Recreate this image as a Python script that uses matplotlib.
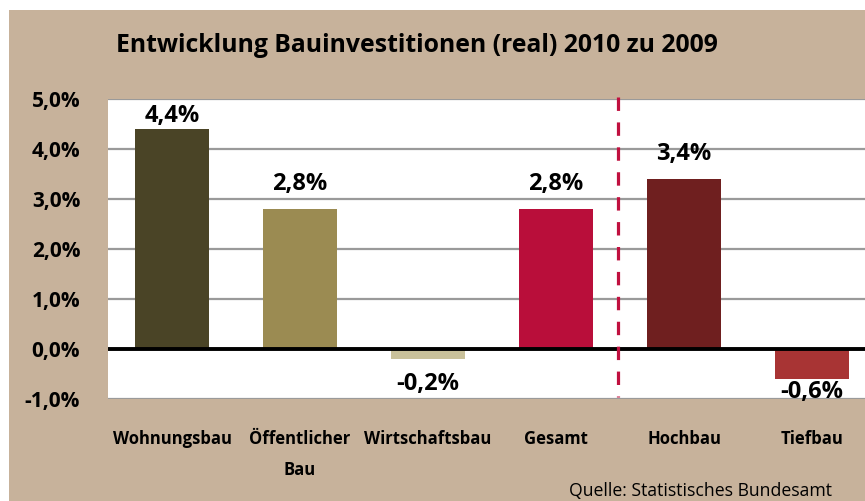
import matplotlib
matplotlib.use("Agg")
import matplotlib.pyplot as plt
from matplotlib.patches import Rectangle

categories = ["Wohnungsbau", "Öffentlicher\nBau", "Wirtschaftsbau", "Gesamt", "Hochbau", "Tiefbau"]
values = [4.4, 2.8, -0.2, 2.8, 3.4, -0.6]
bar_colors = ["#4a4426", "#9b8b52", "#c9c19a", "#b90e3a", "#6f1f1f", "#a83434"]
yticks = [-1, 0, 1, 2, 3, 4, 5]

plt.rcParams['font.family'] = ['Open Sans', 'DejaVu Sans']

tan = "#c7b29b"
fig = plt.figure(figsize=(8.65, 5.01), dpi=100, facecolor="white")
fig.patches.append(Rectangle((9 / 865, 0), 1, 1 - 10 / 501, transform=fig.transFigure,
                             facecolor=tan, edgecolor="none", zorder=-5))

ax = fig.add_axes([108 / 865, 1 - 399 / 501, 1 - 108 / 865, 300 / 501])
ax.set_facecolor("white")
ax.set_ylim(-1, 5)
ax.set_xlim(-0.5, 5.414)

for y in yticks:
    if y != 0:
        ax.axhline(y, color="#9a9a9a", lw=1.6, zorder=1)

x = list(range(len(categories)))
ax.bar(x, values, width=0.58, color=bar_colors, zorder=2)
ax.axhline(0, color="black", lw=2.8, zorder=3)
# separator, drawn top-down so the dash pattern starts at the top
ax.plot([3.485, 3.485], [5.04, -0.96], color="#c0103f", lw=2.3,
        ls=(0, (4.2, 3.6)), zorder=3, clip_on=False)

# data labels, kept inside the plot area like the original
for xi, v in zip(x, values):
    txt = f"{v:.1f}%".replace(".", ",")
    ypos = min(v + 0.5, 4.66) if v >= 0 else max(v - 0.5, -0.86)
    ax.text(xi, ypos, txt, ha="center", va="center", fontsize=17, fontweight="bold", zorder=4)

ax.set_yticks(yticks)
ax.set_yticklabels([f"{t:.1f}%".replace(".", ",") for t in yticks],
                   fontsize=15, fontweight="bold")
ax.set_xticks(x)
ax.set_xticklabels(categories, fontsize=12, fontweight="bold", va="top", linespacing=1.95)
ax.tick_params(axis="y", length=0, pad=20)
ax.tick_params(axis="x", length=0, pad=22)
for s in ax.spines.values():
    s.set_visible(False)

fig.text(417 / 865, 1 - 46 / 501, "Entwicklung Bauinvestitionen (real) 2010 zu 2009",
         ha="center", va="center", fontsize=17.8, fontweight="bold")
fig.text(832 / 865, 1 - 491 / 501, "Quelle: Statistisches Bundesamt",
         ha="right", va="center", fontsize=12.7)

fig.savefig("out.png", dpi=100, facecolor=fig.get_facecolor())
